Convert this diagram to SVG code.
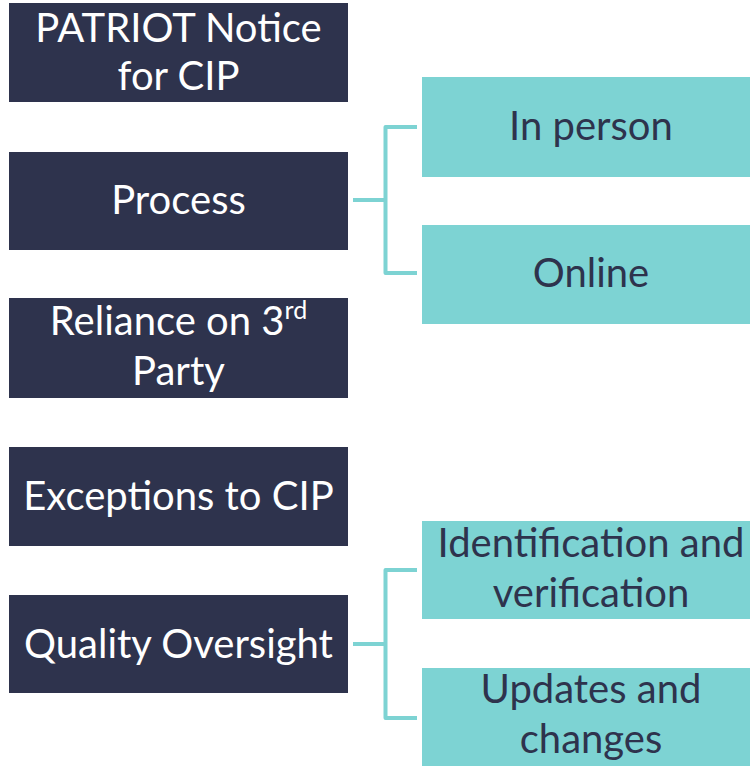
<svg xmlns="http://www.w3.org/2000/svg" width="750" height="766" viewBox="0 0 750 766">
<style>
.dark{fill:#2e334d}
.teal{fill:#7dd3d3}
.t{font-family:Lato,"Open Sans",sans-serif;font-size:40px;text-anchor:middle}
.w{fill:#ffffff}
.d{fill:#2e334d}
.c{fill:none;stroke:#7dd3d3;stroke-width:4;stroke-linejoin:round}
</style>
<rect width="750" height="766" fill="#ffffff"/>
<g id="n1"><rect class="dark" x="9" y="3" width="339" height="99"/><text class="t w" x="178.5" y="42">PATRIOT Notice</text><text class="t w" x="178.5" y="90">for CIP</text></g>
<g id="n2"><rect class="dark" x="9" y="152" width="339" height="98"/><text class="t w" x="178.5" y="214">Process</text></g>
<g id="n3"><rect class="dark" x="9" y="298" width="339" height="100"/><text class="t w" x="178.5" y="335">Reliance on 3<tspan font-size="25" dy="-16">rd</tspan></text><text class="t w" x="178.5" y="385">Party</text></g>
<g id="n4"><rect class="dark" x="9" y="447" width="339" height="99"/><text class="t w" x="178.5" y="510">Exceptions to CIP</text></g>
<g id="n5"><rect class="dark" x="9" y="595" width="339" height="98"/><text class="t w" x="178.5" y="658">Quality Oversight</text></g>
<g id="n6"><rect class="teal" x="422" y="77" width="339" height="100"/><text class="t d" x="591" y="140">In person</text></g>
<g id="n7"><rect class="teal" x="422" y="225" width="339" height="99"/><text class="t d" x="591" y="287">Online</text></g>
<g id="n8"><rect class="teal" x="422" y="521" width="339" height="98"/><text class="t d" x="591" y="557">Identification and</text><text class="t d" x="591" y="607">verification</text></g>
<g id="n9"><rect class="teal" x="422" y="668" width="339" height="98"/><text class="t d" x="591" y="703">Updates and</text><text class="t d" x="591" y="753">changes</text></g>
<g id="connectors">
<path class="c" d="M353 200H385.5"/>
<path class="c" d="M417 127H385.5V273H417"/>
<path class="c" d="M353 644H385.5"/>
<path class="c" d="M417 570H385.5V718H417"/>
</g>
</svg>
